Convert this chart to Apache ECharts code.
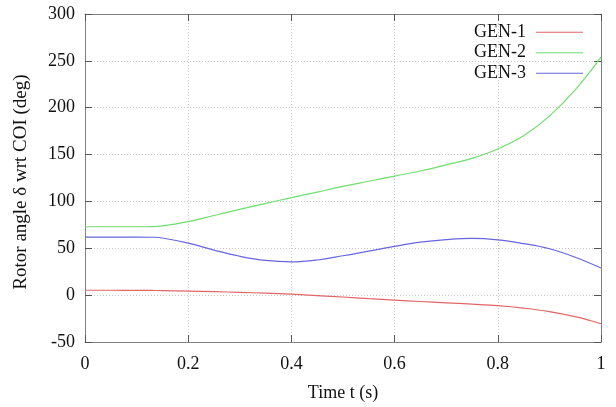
<!DOCTYPE html>
<html>
<head>
<meta charset="utf-8">
<script src="https://cdn.jsdelivr.net/npm/echarts@6/dist/echarts.min.js"></script>
<style>html,body{margin:0;padding:0;background:#fff}#c{width:616px;height:407px}</style>
</head>
<body>
<div id="c"></div>
<script>
const seriesNames = ['GEN-1', 'GEN-2', 'GEN-3'];
const time = [0, 0.05, 0.1, 0.13, 0.15, 0.2, 0.25, 0.3, 0.35, 0.4, 0.45, 0.5, 0.55, 0.6, 0.65, 0.7, 0.75, 0.8, 0.85, 0.9, 0.95, 1.0];
const gen1 = [5.2, 5.2, 5.1, 5.0, 4.9, 4.3, 3.7, 3.0, 2.1, 1.0, -0.5, -2.0, -3.7, -5.3, -6.8, -8.2, -9.6, -11.2, -13.8, -17.5, -23.0, -30.5];
const gen2 = [73, 73, 73, 73.2, 74, 78.5, 85, 91.5, 98, 104, 110, 116, 121.5, 127, 132.5, 139, 146, 156, 170, 191, 219, 254];
const gen3 = [62, 62, 62, 61.8, 61, 55.5, 48, 41.5, 37, 35.5, 37.5, 42, 47, 52, 56.5, 59.2, 60.5, 59, 55, 49.5, 40.5, 29];
const xTicks = [0, 0.2, 0.4, 0.6, 0.8, 1];
const yTicks = [-50, 0, 50, 100, 150, 200, 250, 300];
const colors = ['#e06666', '#70dd70', '#6666dd'];

const font = 'Liberation Serif';
const zip = (xs, ys) => xs.map((x, i) => [x, ys[i]]);
const values = [gen1, gen2, gen3];

const chart = echarts.init(document.getElementById('c'), null, {renderer: 'canvas'});
const axisLineStyle = {color: '#808080', width: 1};
const tickStyle = {show: true, inside: true, length: 7, lineStyle: {color: '#555', width: 1}};
const option = {
  animation: false,
  backgroundColor: '#fff',
  grid: {left: 85, right: 15, top: 14, bottom: 63, containLabel: false},
  legend: {
    orient: 'vertical',
    right: 33,
    top: 22,
    padding: 0,
    align: 'right',
    icon: 'rect',
    itemWidth: 47,
    itemHeight: 1,
    itemGap: 0,
    data: seriesNames,
    textStyle: {fontFamily: font, fontSize: 18, color: '#111', lineHeight: 20.5, padding: [0, 5, 0, 0]}
  },
  xAxis: [{
    type: 'value', min: xTicks[0], max: xTicks[xTicks.length - 1], interval: 0.2,
    name: 'Time t (s)', nameLocation: 'middle', nameGap: 42,
    nameTextStyle: {fontFamily: font, fontSize: 18, color: '#111'},
    axisLine: {show: true, onZero: false, lineStyle: axisLineStyle},
    axisTick: tickStyle,
    axisLabel: {fontFamily: font, fontSize: 18, color: '#111', margin: 13, formatter: v => String(+v.toFixed(1))},
    splitLine: {show: true, lineStyle: {color: '#c8c8c8', type: [1, 2], width: 1}}
  }, {
    type: 'value', position: 'top', min: xTicks[0], max: xTicks[xTicks.length - 1], interval: 0.2,
    axisLine: {show: true, onZero: false, lineStyle: axisLineStyle},
    axisTick: tickStyle, axisLabel: {show: false}, splitLine: {show: false}
  }],
  yAxis: [{
    type: 'value', min: yTicks[0], max: yTicks[yTicks.length - 1], interval: 50,
    name: 'Rotor angle δ wrt COI (deg)', nameLocation: 'middle', nameGap: 54,
    nameTextStyle: {fontFamily: font, fontSize: 19, color: '#111', padding: [0, 8, 0, 0]},
    axisLine: {show: true, onZero: false, lineStyle: axisLineStyle},
    axisTick: tickStyle,
    axisLabel: {fontFamily: font, fontSize: 18, color: '#111', margin: 10},
    splitLine: {show: true, lineStyle: {color: '#c8c8c8', type: [1, 2], width: 1}}
  }, {
    type: 'value', position: 'right', min: yTicks[0], max: yTicks[yTicks.length - 1], interval: 50,
    axisLine: {show: true, onZero: false, lineStyle: axisLineStyle},
    axisTick: tickStyle, axisLabel: {show: false}, splitLine: {show: false}
  }],
  series: seriesNames.map((n, i) => ({
    name: n, type: 'line', data: zip(time, values[i]),
    xAxisIndex: 0, yAxisIndex: 0,
    symbol: 'none', smooth: 0.4,
    lineStyle: {color: colors[i], width: 1.2},
    itemStyle: {color: colors[i]}
  }))
};
chart.setOption(option);
</script>
</body>
</html>
